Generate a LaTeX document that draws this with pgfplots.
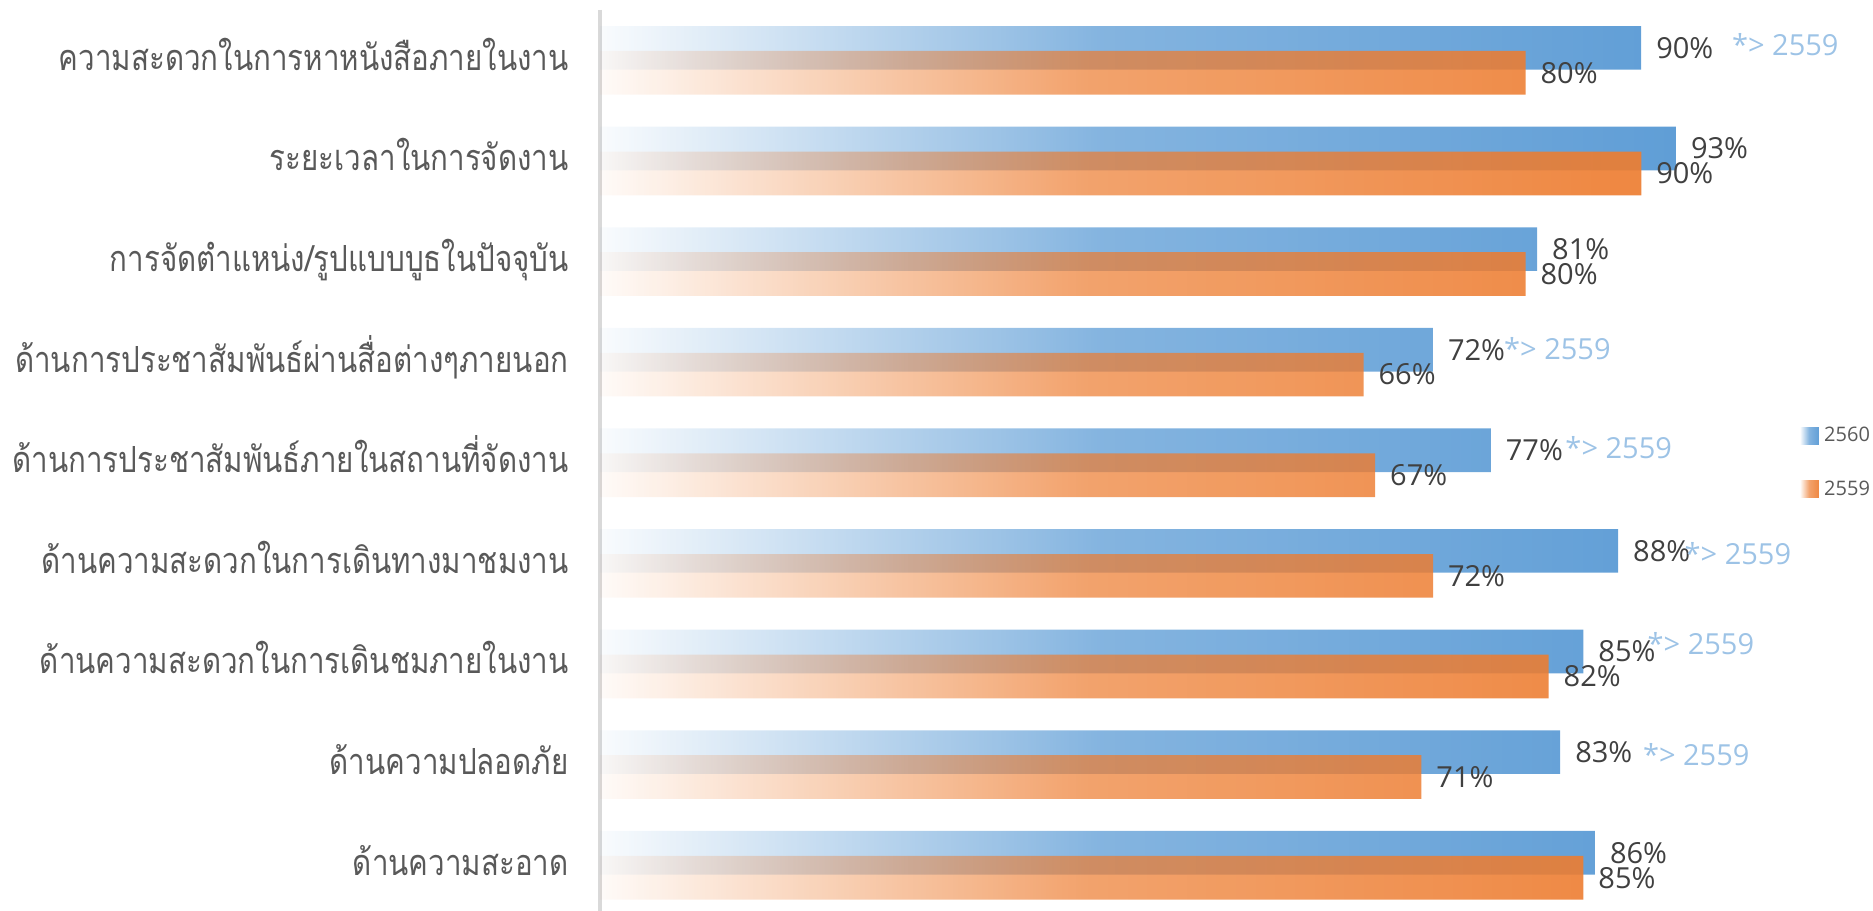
\documentclass[border=0pt]{standalone}
\usepackage{fontspec}
\setmainfont{Open Sans}
\newfontfamily\thaifont[Script=Thai, FakeStretch=0.82]{Loma}
\usepackage{pgfplots}
\usepackage{pgfplotstable}
\pgfplotsset{compat=1.18}
\usetikzlibrary{fadings}
\definecolor{c1}{HTML}{5B9BD5}
\definecolor{c2}{HTML}{ED7D31}
\definecolor{c3}{HTML}{9DC3E6}
\definecolor{lab}{HTML}{404040}
\definecolor{tlab}{HTML}{595959}
\definecolor{axl}{HTML}{D9D9D9}

\pgfdeclarehorizontalshading{barfadeshade}{100bp}{color(0bp)=(black); color(27bp)=(black); color(48.5bp)=(black!25); color(75bp)=(white); color(100bp)=(white)}
\begin{tikzfadingfrompicture}[name=barfade]
\shade[shading=barfadeshade] (0,0) rectangle (2cm,2cm);
\end{tikzfadingfrompicture}

\pgfplotstableread{
y x
0 90
1 93
2 81
3 72
4 77
5 88
6 85
7 83
8 86
}\dataA
\pgfplotstableread{
y x
0 80
1 90
2 80
3 66
4 67
5 72
6 82
7 71
8 85
}\dataB
\pgfplotstableread{
x y
97.9 -0.158
78.2 2.869
83.5 3.848
93.8 4.902
90.6 5.796
90.2 6.900
}\dataC

\begin{document}
\begin{tikzpicture}
\begin{axis}[
 name=ax, scale only axis, width=578.5pt, height=450.5pt,
 xbar, bar width=0.434,
 xmin=0, xmax=100, ymin=-0.5, ymax=8.455, y dir=reverse,
 axis x line=none, axis y line*=left,
 y axis line style={draw=axl, line width=2.3pt, -},
 ytick={0,...,8},
 yticklabels={ความสะดวกในการหาหนังสือภายในงาน, ระยะเวลาในการจัดงาน, การจัดตำแหน่ง/รูปแบบบูธในปัจจุบัน, ด้านการประชาสัมพันธ์ผ่านสื่อต่างๆภายนอก, ด้านการประชาสัมพันธ์ภายในสถานที่จัดงาน, ด้านความสะดวกในการเดินทางมาชมงาน, ด้านความสะดวกในการเดินชมภายในงาน, ด้านความปลอดภัย, ด้านความสะอาด},
 major tick length=0pt,
 yticklabel style={anchor=base east, inner sep=0pt, xshift=-15.5pt, yshift=-5pt, font=\thaifont\fontsize{18}{20}\selectfont, text=tlab},
 /pgf/number format/assume math mode=true,
 legend style={at={(1.037,0.4975)}, anchor=west, draw=none, fill=none, inner sep=0pt, row sep=17.75pt, font=\fontsize{10}{11}\selectfont, text=tlab, nodes={inner sep=0pt}, /tikz/every odd column/.append style={column sep=2.5pt}},
 legend cell align=left,
 clip=false,
]
\addplot[fill=c1, draw=none, path fading=barfade, bar shift=-0.124,
  legend image code/.code={\fill[c1, path fading=barfade] (0pt,-4.5pt) rectangle (9.5pt,4.5pt);}]
  table[x=x, y=y] {\dataA};
\addlegendentry{2560}
\addplot[fill=c2, fill opacity=0.95, draw=none, path fading=barfade, bar shift=0.124,
  legend image code/.code={\fill[c2, path fading=barfade] (0pt,-4.5pt) rectangle (9.5pt,4.5pt);}]
  table[x=x, y=y] {\dataB};
\addlegendentry{2559}
% value labels
\addplot[sharp plot, draw=none, forget plot, bar shift=0pt, point meta=x,
  nodes near coords={\pgfmathprintnumber[assume math mode=true]{\pgfplotspointmeta}\%},
  nodes near coords style={anchor=west, inner sep=0pt, xshift=7.3pt, font=\fontsize{14.5}{16}\selectfont, text=lab}]
  table[x=x, y expr=\thisrow{y}-0.124] {\dataA};
\addplot[sharp plot, draw=none, forget plot, bar shift=0pt, point meta=x,
  nodes near coords={\pgfmathprintnumber[assume math mode=true]{\pgfplotspointmeta}\%},
  nodes near coords style={anchor=west, inner sep=0pt, xshift=7.3pt, font=\fontsize{14.5}{16}\selectfont, text=lab}]
  table[x=x, y expr=\thisrow{y}+0.124] {\dataB};
% annotations
\addplot[sharp plot, draw=none, forget plot, bar shift=0pt,
  nodes near coords={*> 2559},
  nodes near coords style={anchor=west, inner sep=0pt, xshift=-0.5pt, font=\fontsize{14.5}{16}\selectfont, text=c3}]
  table[x=x, y=y] {\dataC};
\end{axis}
\pgfresetboundingbox
\path[use as bounding box] ([xshift=-300pt]ax.south west) rectangle ([xshift=636.5pt, yshift=5pt]ax.north west);
\end{tikzpicture}
\end{document}
